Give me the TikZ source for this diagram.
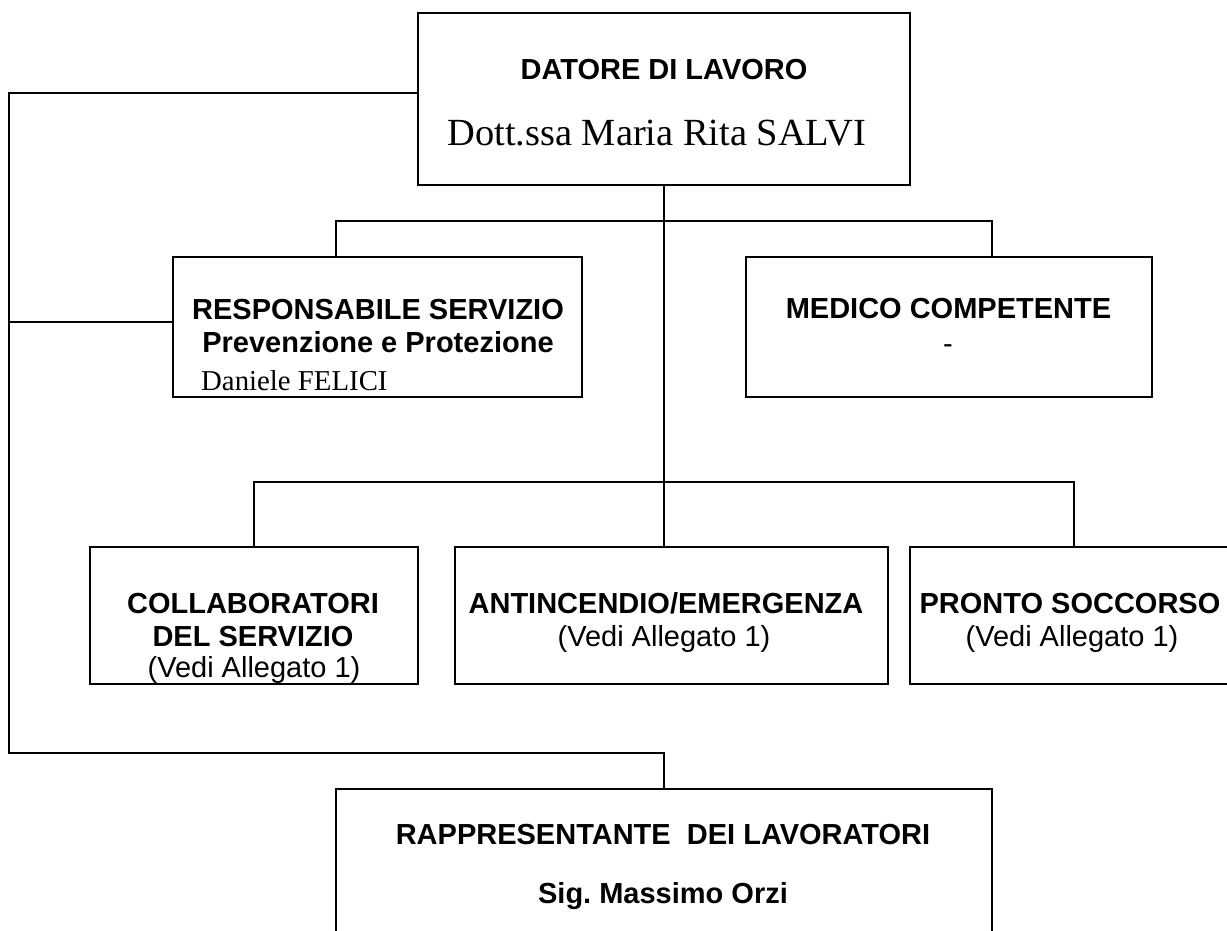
\documentclass[tikz,border=0pt]{standalone}
\usepackage{fontspec}
\setmainfont{Liberation Serif}
\setsansfont{Liberation Sans}
\frenchspacing

\tikzset{
  box/.style={draw, line width=1.2pt, inner sep=0pt},
  hd/.style={anchor=base, inner sep=0pt, font=\sffamily\bfseries\fontsize{14.5}{16}\selectfont},
  sub/.style={anchor=base, inner sep=0pt, font=\sffamily\fontsize{14.5}{16}\selectfont},
  nm/.style={anchor=base, inner sep=0pt, font=\rmfamily\fontsize{14.4}{16}\selectfont}
}

\begin{document}
\begin{tikzpicture}[x=0.5pt,y=-0.5pt,line width=1.2pt]
	\useasboundingbox (0,0) rectangle (1227,931);
	\clip (0,0) rectangle (1227,931);

	% boxes
	\node[box,minimum width=246pt,minimum height=86pt]   (datore) at (664,99) {};
	\node[box,minimum width=204.5pt,minimum height=70pt] (rspp)   at (377.5,327) {};
	\node[box,minimum width=203pt,minimum height=70pt]   (medico) at (949,327) {};
	\node[box,minimum width=164pt,minimum height=68.5pt] (collab) at (254,615.5) {};
	\node[box,minimum width=216.5pt,minimum height=68.5pt] (antinc) at (671.5,615.5) {};
	\node[box,minimum width=164pt,minimum height=68.5pt] (pronto) at (1074,615.5) {};
	\node[box,minimum width=328pt,minimum height=86pt]   (rapp)   at (664,875) {};

	% texts
	\node[hd] (datoreT) at (664,80) {DATORE DI LAVORO};
	\node[nm,font=\rmfamily\fontsize{19.2}{22}\selectfont] (datoreN) at (657,146) {Dott.ssa Maria Rita SALVI};

	\node[hd] (rsppT) at (378,319) {RESPONSABILE SERVIZIO};
	\node[hd] (rsppS) at (378,352) {Prevenzione e Protezione};
	\node[nm,anchor=base west] (rsppN) at (200,390) {Daniele FELICI};

	\node[hd]  (medicoT) at (948.5,318) {MEDICO COMPETENTE};
	\node[sub] (medicoN) at (948,353) {-};

	\node[hd]  (collabT) at (253,613) {COLLABORATORI};
	\node[hd]  (collabS) at (253,646) {DEL SERVIZIO};
	\node[sub] (collabN) at (254,677) {(Vedi Allegato 1)};

	\node[hd]  (antincT) at (666,613) {ANTINCENDIO/EMERGENZA};
	\node[sub] (antincN) at (664,646) {(Vedi Allegato 1)};

	\node[hd]  (prontoT) at (1070,613) {PRONTO SOCCORSO};
	\node[sub] (prontoN) at (1072,646) {(Vedi Allegato 1)};

	\node[hd] (rappT) at (663,844) {RAPPRESENTANTE\ \ DEI LAVORATORI};
	\node[hd] (rappN) at (663,903) {Sig. Massimo Orzi};

	% connectors
	\coordinate (b1l) at (336,221);
	\coordinate (b1r) at (992,221);
	\coordinate (b2)  at (664,482);
	\coordinate (lbot) at (9,753);

	\draw (datore.south) -- (datore.south |- antinc.north);
	\draw (b1l |- rspp.north) -- (b1l) -- (b1r) -- (b1r |- medico.north);
	\draw (collab.north) |- (b2) -| (pronto.north);
	\draw ([yshift=3pt]datore.west) -| (lbot) -| (rapp.north);
	\draw ([yshift=2.5pt]rspp.west) -- ([yshift=2.5pt]rspp.west -| lbot);

\end{tikzpicture}
\end{document}
